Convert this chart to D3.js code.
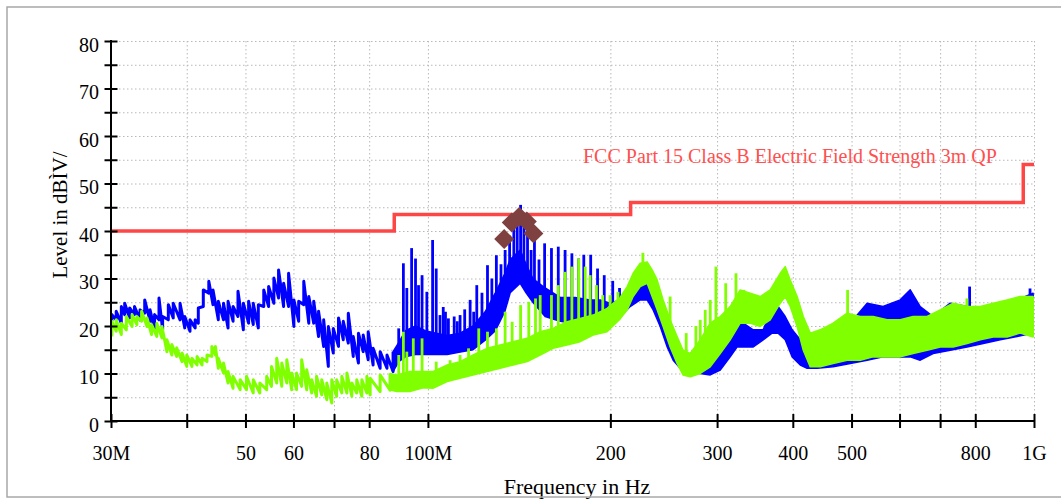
<!DOCTYPE html>
<head>
  <meta charset="utf8">
  <title>Radiated emission scan</title>
  <script src="https://d3js.org/d3.v7.min.js"></script>
  <style>
    body { margin: 0; background: #fff; }
  </style>
</head>
<body>
<script>
var width = 1061, height = 499,
    serif = "'Liberation Serif', 'Times New Roman', serif";

// limit line, level holds from each frequency to the next one (MHz, dB)
var limitFreq = [30, 88, 216, 960, 1000];
var limitLevel = [40, 43.5, 46, 54, 54];
var limitLabel = "FCC Part 15 Class B Electric Field Strength 3m QP";

var xTicks = [30, 40, 50, 60, 70, 80, 100, 200, 300, 400, 500, 600, 700, 800, 1000];
var xTickLabels = ["30M", "", "50", "60", "", "80", "100M", "200", "300", "400", "500", "", "", "800", "1G"];
var yTicks = [0, 5, 10, 15, 20, 25, 30, 35, 40, 45, 50, 55, 60, 65, 70, 75, 80];

// trace envelopes: [MHz, low dB, high dB]
var blueBand = [
  [30.1, 21.0, 22.4], [30.6, 21.3, 23.1], [31.2, 20.6, 24.1], [31.6, 22.4, 24.8], [32.2, 21.7, 23.8],
  [32.8, 22.4, 24.1], [33.5, 21.3, 23.4], [34.1, 22.7, 25.5], [34.8, 21.0, 23.4], [35.4, 19.2, 22.4],
  [36.0, 21.3, 25.9], [36.5, 19.2, 22.0], [37.3, 21.3, 24.5], [38.0, 21.7, 24.8], [39.0, 21.3, 24.8],
  [39.7, 19.6, 22.0], [40.5, 18.9, 21.3], [41.3, 19.6, 21.3], [41.8, 20.6, 23.8], [42.6, 24.1, 27.6],
  [43.5, 26.9, 29.4], [44.2, 24.5, 27.6], [45.1, 21.3, 25.2], [46.0, 21.3, 24.8], [46.8, 19.6, 25.2],
  [47.7, 21.0, 24.1], [48.6, 22.0, 27.3], [49.6, 19.2, 24.8], [50.6, 20.6, 25.2], [51.5, 20.3, 24.8],
  [52.5, 19.6, 24.5], [53.6, 24.1, 27.6], [54.6, 24.1, 28.3], [55.7, 24.8, 30.1], [56.7, 25.9, 31.8],
  [57.8, 24.1, 29.0], [58.9, 24.1, 31.1], [60.1, 19.9, 25.5], [61.2, 21.0, 25.2], [62.4, 24.5, 29.4],
  [63.6, 20.6, 26.2], [64.8, 20.6, 25.2], [66.0, 17.8, 23.1], [67.3, 15.7, 21.3], [68.5, 11.5, 19.9],
  [69.8, 14.3, 19.5], [71.2, 15.7, 21.7], [72.5, 17.1, 21.0], [73.9, 16.4, 22.7], [75.3, 13.6, 17.8],
  [76.8, 12.2, 18.5], [78.2, 14.6, 18.1], [79.7, 12.9, 18.8], [81.2, 11.8, 15.3], [83.4, 11.1, 14.6],
  [85.6, 11.1, 13.9], [87.6, 10.4, 14.6], [89.5, 12.5, 16.5], [91.8, 13.5, 19.0], [95.4, 14.0, 20.0],
  [99.0, 14.0, 19.0], [103.2, 14.0, 18.5], [107.6, 14.0, 18.0], [113.0, 14.5, 18.5], [118.7, 15.0, 20.0],
  [124.3, 17.0, 23.0], [129.2, 19.0, 27.0], [133.9, 23.0, 31.0], [136.7, 27.0, 34.0], [142.0, 29.0, 36.0],
  [145.2, 27.0, 33.0], [149.0, 25.0, 30.0], [156.1, 22.0, 28.0], [165.3, 21.0, 26.0], [175.0, 20.5, 26.0],
  [185.2, 20.5, 25.5], [192.4, 20.6, 25.5], [199.8, 21.3, 24.8], [207.6, 22.0, 25.5], [215.6, 24.1, 27.6],
  [224.0, 25.5, 28.6], [230.0, 25.5, 28.9], [235.3, 23.4, 26.9], [241.7, 19.9, 24.1], [248.2, 15.6, 19.2],
  [253.9, 12.8, 15.6], [260.8, 11.1, 13.5], [270.9, 10.4, 12.8], [281.4, 10.0, 14.2], [292.3, 9.7, 16.4],
  [303.6, 10.7, 18.5], [315.3, 13.5, 20.6], [323.8, 15.6, 22.3], [331.3, 15.6, 20.6], [344.2, 15.6, 19.2],
  [357.4, 17.1, 19.2], [369.7, 18.5, 23.7], [378.3, 18.5, 24.1], [388.6, 17.1, 22.0], [399.0, 13.5, 19.2],
  [411.5, 11.8, 17.1], [422.4, 11.1, 14.2], [438.6, 11.1, 18.1], [466.2, 11.4, 19.2], [497.5, 12.1, 20.6],
  [530.5, 12.8, 24.8], [563.6, 13.5, 24.1], [601.6, 13.5, 25.5], [624.9, 13.5, 27.6], [649.0, 12.8, 24.1],
  [681.6, 14.2, 22.0], [727.4, 14.9, 24.8], [775.5, 15.6, 24.1], [824.5, 16.3, 23.4], [879.6, 17.1, 24.1],
  [937.9, 17.8, 25.5], [996.6, 18.5, 26.9], [1000, 19.5, 23.0]
];

var greenBand = [
  [30.1, 17.8, 21.0], [30.6, 18.9, 21.3], [31.2, 18.2, 20.6], [31.8, 19.2, 22.0], [32.5, 19.9, 22.4],
  [33.1, 20.3, 22.0], [33.7, 21.0, 23.1], [34.4, 19.9, 21.7], [35.0, 18.2, 20.3], [35.7, 17.8, 20.6],
  [36.4, 17.5, 19.9], [37.1, 14.6, 17.1], [37.8, 13.9, 16.1], [38.5, 13.6, 15.4], [39.3, 12.5, 14.3],
  [40.0, 11.5, 13.9], [40.8, 11.5, 13.2], [41.6, 11.8, 13.6], [42.4, 11.8, 13.2], [43.2, 12.5, 13.9],
  [44.0, 13.6, 15.7], [44.6, 13.9, 15.7], [45.1, 11.1, 13.2], [46.0, 10.1, 12.2], [46.8, 8.0, 10.4],
  [47.7, 6.9, 9.4], [49.0, 6.6, 8.7], [50.2, 6.6, 9.4], [51.5, 5.9, 8.7], [52.8, 5.9, 8.0],
  [54.2, 6.6, 9.4], [55.2, 7.3, 11.5], [56.3, 8.0, 13.2], [57.4, 7.3, 12.2], [58.5, 8.0, 12.9],
  [59.6, 6.6, 10.1], [60.7, 6.6, 10.1], [61.9, 7.3, 12.9], [63.1, 6.6, 10.8], [64.3, 5.9, 8.7],
  [65.5, 5.2, 9.4], [66.8, 5.5, 8.7], [68.1, 4.5, 8.0], [69.4, 3.8, 8.7], [70.7, 5.2, 8.7],
  [72.1, 5.9, 9.4], [73.5, 5.9, 10.1], [74.9, 5.2, 8.0], [76.3, 5.9, 8.7], [77.8, 5.2, 8.7],
  [79.3, 5.9, 9.4], [80.3, 5.5, 9.0], [83.4, 6.2, 9.7], [86.6, 6.5, 10.0], [88.9, 6.2, 9.7],
  [93.4, 6.2, 10.4], [98.2, 7.0, 10.4], [101.9, 6.9, 10.4], [107.6, 8.3, 11.8], [113.0, 9.0, 12.5],
  [118.7, 9.7, 13.9], [125.2, 10.4, 15.3], [131.6, 11.1, 16.0], [138.2, 11.8, 16.7], [145.8, 12.5, 17.4],
  [153.2, 13.9, 18.8], [160.9, 15.3, 19.5], [169.6, 16.0, 20.9], [178.3, 16.7, 21.6], [187.3, 18.1, 22.3],
  [197.5, 18.8, 23.7], [207.6, 21.5, 26.0], [213.2, 23.4, 28.3], [218.1, 26.2, 31.1], [224.0, 28.3, 33.2],
  [230.0, 29.0, 33.5], [234.4, 26.2, 31.8], [238.9, 23.4, 29.7], [244.4, 19.9, 25.5], [251.0, 15.6, 21.3],
  [257.7, 12.1, 17.8], [263.6, 9.7, 14.9], [270.9, 9.3, 14.2], [281.4, 10.0, 17.1], [292.3, 11.4, 20.6],
  [303.6, 14.2, 22.0], [315.3, 17.1, 24.1], [327.5, 20.6, 27.6], [340.2, 20.6, 26.9], [353.4, 19.9, 26.2],
  [367.1, 21.3, 27.6], [381.3, 24.8, 31.1], [388.6, 26.2, 32.5], [396.1, 24.1, 29.7], [406.6, 19.9, 26.2],
  [416.2, 14.9, 22.0], [427.4, 11.4, 18.5], [443.9, 11.4, 19.2], [466.2, 12.1, 20.6], [491.7, 12.8, 22.7],
  [516.7, 12.8, 22.0], [542.7, 13.5, 22.0], [572.4, 13.5, 21.3], [601.6, 13.5, 21.3], [631.8, 14.2, 22.0],
  [666.2, 14.9, 22.0], [700.3, 15.6, 23.4], [735.6, 15.6, 24.8], [775.5, 16.3, 24.1], [815.3, 17.1, 24.1],
  [856.3, 17.7, 24.8], [903.0, 17.7, 25.5], [948.7, 18.5, 26.2], [996.6, 17.7, 26.2], [1000, 18.0, 24.0]
];

// narrow harmonic spikes: [MHz, base dB, top dB]
var blueSpikes = [
  [89.5, 15, 19.5], [91.1, 16, 33.2], [92.3, 16, 28.0], [94.0, 16, 36.4], [95.4, 16, 34.2],
  [96.5, 16, 28.6], [97.8, 16, 30.7], [99.6, 16, 27.2], [101.8, 16, 38.1], [103.2, 16, 32.1],
  [104.7, 16, 22.3], [106.0, 16, 24.0], [106.9, 16, 23.0], [108.1, 16, 21.6], [110.5, 16, 22.0],
  [111.8, 16, 21.0], [113.0, 16, 22.3], [115.0, 16, 23.5], [117.4, 17, 25.5], [119.0, 17, 23.0],
  [120.4, 17, 28.6], [122.8, 18, 27.0], [125.4, 19, 32.8], [127.5, 20, 30.0], [129.7, 22, 34.9],
  [132.0, 24, 33.0], [134.1, 26, 36.0], [136.4, 28, 39.0], [138.6, 30, 40.5], [140.4, 31, 42.0],
  [142.2, 31, 45.5], [144.0, 30, 41.0], [146.0, 30, 39.9], [148.0, 28, 36.0], [149.9, 27, 38.5],
  [152.5, 25, 34.0], [155.8, 24, 37.4], [159.9, 23, 36.4], [164.1, 23, 36.7], [168.4, 23, 36.0],
  [172.8, 23, 35.3], [177.3, 23, 34.2], [180.8, 23, 35.0], [185.6, 23, 35.0], [190.5, 23, 32.1],
  [195.4, 23, 30.7], [201.8, 23, 29.5], [207.1, 24, 28.0], [783.0, 20, 28.3], [985.0, 22, 27.9]
];

var greenSpikes = [
  [89.5, 8, 13.9], [91.1, 8, 18.8], [92.3, 8, 14.6], [94.6, 8, 17.4], [97.8, 8, 17.4],
  [103.2, 9, 12.5], [108.8, 10, 12.8], [113.0, 11, 13.9], [116.7, 11, 15.3], [121.3, 12, 19.5],
  [125.4, 13, 18.8], [129.7, 14, 19.5], [134.1, 14, 23.0], [137.7, 15, 20.9], [142.2, 15, 24.4],
  [146.7, 16, 25.1], [150.5, 16, 25.8], [153.2, 17, 26.5], [159.9, 18, 26.5], [164.1, 18, 28.6],
  [168.4, 19, 31.4], [172.8, 19, 32.5], [177.3, 20, 34.2], [181.8, 20, 32.5], [185.2, 21, 30.7],
  [189.7, 21, 28.6], [194.3, 22, 26.5], [199.8, 22, 26.5], [205.9, 23, 27.2], [226.3, 30, 35.4],
  [251.0, 18, 26.2], [266.8, 12, 18.5], [276.8, 12, 20.0], [281.4, 13, 21.3], [286.8, 14, 23.4],
  [292.3, 16, 25.5], [298.7, 18, 32.5], [310.0, 18, 29.0], [322.3, 21, 31.1], [332.0, 21, 27.6],
  [492.6, 18, 27.6], [775.0, 20, 25.8]
];

// final measurement points [MHz, dB]
var markers = [[133.6, 38.3], [137.5, 41.8], [141.5, 43.0], [145.6, 42.0], [149.3, 39.5]];

// below this frequency the traces are drawn as a jagged line, above as a filled band
var denseFrom = 88;

var x = d3.scaleLog().domain([30, 1000]).range([111, 1034]),
    y = d3.scaleLinear().domain([0, 80]).range([421, 41]);

var svg = d3.select("body").append("svg")
    .attr("width", width)
    .attr("height", height);

svg.append("clipPath").attr("id", "clip")
  .append("rect")
    .attr("x", x(30)).attr("y", y(80))
    .attr("width", x(1000) - x(30)).attr("height", y(0) - y(80));

// dotted grid
var gx = svg.append("g")
    .attr("transform", "translate(0," + y(80) + ")")
    .call(d3.axisBottom(x).tickValues(xTicks.slice(1)).tickSize(y(0) - y(80)).tickFormat(""));
var gy = svg.append("g")
    .attr("transform", "translate(" + x(30) + ",0)")
    .call(d3.axisRight(y).tickValues(yTicks.slice(1)).tickSize(x(1000) - x(30)).tickFormat(""));
[gx, gy].forEach(function(g) {
  g.select(".domain").remove();
  g.selectAll("line")
    .attr("stroke", "#b8b8b8")
    .attr("stroke-width", 1)
    .attr("stroke-dasharray", "1.5,2.5");
});

var area = d3.area()
    .x(function(d) { return x(d[0]); })
    .y0(function(d) { return y(d[1]); })
    .y1(function(d) { return y(d[2]); });

// jagged trace: up to the high value, then down to the next low value
var jagged = d3.line()
    .x(function(d) { return x(d[0]); })
    .y(function(d) { return y(d[1]); });

function drawTrace(band, spikes, color) {
  var g = svg.append("g").attr("clip-path", "url(#clip)");
  var low = band.filter(function(d) { return d[0] <= denseFrom; }),
      high = band.filter(function(d) { return d[0] >= low[low.length - 1][0]; });
  var pts = [];
  low.forEach(function(d) { pts.push([d[0], d[1]], [d[0], d[2]]); });

  g.append("path")
    .datum(pts)
    .attr("d", jagged)
    .attr("fill", "none")
    .attr("stroke", color)
    .attr("stroke-width", 3)
    .attr("stroke-linejoin", "round");
  g.append("path")
    .datum(high)
    .attr("d", area)
    .attr("fill", color)
    .attr("stroke", color)
    .attr("stroke-width", 1.5)
    .attr("stroke-linejoin", "round");
  g.selectAll("line")
    .data(spikes)
    .join("line")
    .attr("x1", function(d) { return x(d[0]); })
    .attr("x2", function(d) { return x(d[0]); })
    .attr("y1", function(d) { return y(d[1]); })
    .attr("y2", function(d) { return y(d[2]); })
    .attr("stroke", color)
    .attr("stroke-width", 2.8);
}

drawTrace(blueBand, blueSpikes, "#0000ff");
drawTrace(greenBand, greenSpikes, "#80ff00");

// limit line
var limitLine = d3.line()
    .x(function(d, i) { return x(limitFreq[i]); })
    .y(function(d) { return y(d); })
    .curve(d3.curveStepAfter);

svg.append("path")
  .datum(limitLevel)
  .attr("d", limitLine)
  .attr("fill", "none")
  .attr("stroke", "#ff4646")
  .attr("stroke-width", 3.5);

svg.append("text")
  .attr("x", 583)
  .attr("y", 163)
  .attr("font-family", serif)
  .attr("font-size", 20)
  .attr("fill", "#ff5050")
  .text(limitLabel);

// axes: ticks cross the axis line on both sides
var yAxis = svg.append("g")
    .attr("transform", "translate(" + (x(30) + 6.5) + ",0)")
    .call(d3.axisLeft(y).tickValues(yTicks).tickSize(13).tickPadding(5.5)
      .tickFormat(function(d) { return d % 10 === 0 ? d : ""; }));
yAxis.attr("font-family", serif).attr("font-size", 20);
yAxis.select(".domain").remove();
yAxis.selectAll("line").attr("stroke", "#000").attr("stroke-width", 2);
yAxis.selectAll("text").attr("fill", "#000").attr("dy", "0.52em");

var xAxis = svg.append("g")
    .attr("transform", "translate(0," + (y(0) - 7) + ")")
    .call(d3.axisBottom(x).tickValues(xTicks).tickSize(14).tickPadding(18)
      .tickFormat(function(d, i) { return xTickLabels[i]; }));
xAxis.attr("font-family", serif).attr("font-size", 20);
xAxis.select(".domain").remove();
xAxis.selectAll("line").attr("stroke", "#000").attr("stroke-width", 2);
xAxis.selectAll("text").attr("fill", "#000");

svg.append("line")
  .attr("x1", x(30)).attr("x2", x(30))
  .attr("y1", y(80) - 1).attr("y2", y(0) + 1)
  .attr("stroke", "#000").attr("stroke-width", 2);
svg.append("line")
  .attr("x1", x(30)).attr("x2", x(1000))
  .attr("y1", y(0)).attr("y2", y(0))
  .attr("stroke", "#000").attr("stroke-width", 2);

// markers
svg.selectAll(".marker")
  .data(markers)
  .join("path")
  .attr("class", "marker")
  .attr("d", d3.symbol(d3.symbolSquare, 200))
  .attr("transform", function(d) { return "translate(" + x(d[0]) + "," + y(d[1]) + ") rotate(45)"; })
  .attr("fill", "#7f4040");

// axis titles
svg.append("text")
  .attr("transform", "translate(67,215) rotate(-90)")
  .attr("text-anchor", "middle")
  .attr("font-family", serif)
  .attr("font-size", 21)
  .text("Level in dBÌV/");

svg.append("text")
  .attr("x", 577)
  .attr("y", 494)
  .attr("text-anchor", "middle")
  .attr("font-family", serif)
  .attr("font-size", 22)
  .text("Frequency in Hz");

// outer frame
svg.append("rect")
  .attr("x", 7).attr("y", 7)
  .attr("width", 1062).attr("height", 490)
  .attr("fill", "none")
  .attr("stroke", "#a8a8a8")
  .attr("stroke-width", 1.5);
</script>
</body>
